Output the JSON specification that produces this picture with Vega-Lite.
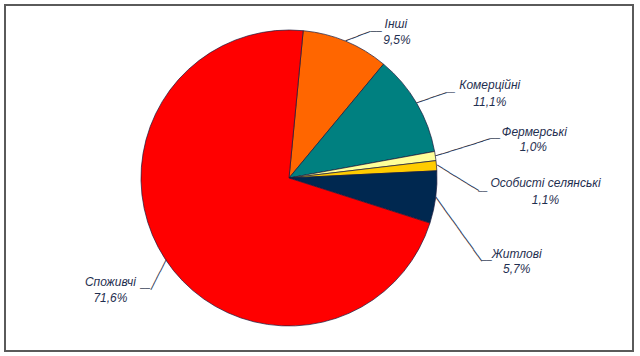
{
  "$schema": "https://vega.github.io/schema/vega-lite/v6.json",
  "autosize": "none",
  "width": 628,
  "height": 346,
  "padding": {"left": 5, "top": 5, "right": 7, "bottom": 5},
  "background": "white",
  "view": {"stroke": "#5a5a5a", "strokeWidth": 2},
  "config": {
    "locale": {"number": {"decimal": ",", "thousands": " ", "grouping": [3], "currency": ["", ""]}},
    "text": {"font": "Liberation Sans", "fontStyle": "italic", "fontSize": 12, "fill": "#1f2f50", "align": "center", "baseline": "middle"}
  },
  "data": {
    "values": [
      {"cat": "Інші", "share": 0.095, "rank": 1},
      {"cat": "Комерційні", "share": 0.111, "rank": 2},
      {"cat": "Фермерські", "share": 0.010, "rank": 3},
      {"cat": "Особисті селянські", "share": 0.011, "rank": 4},
      {"cat": "Житлові", "share": 0.057, "rank": 5},
      {"cat": "Споживчі", "share": 0.716, "rank": 6}
    ]
  },
  "encoding": {
    "theta": {"field": "share", "type": "quantitative", "stack": true, "scale": {"range": [0.096, 6.3792]}},
    "order": {"field": "rank", "type": "quantitative"}
  },
  "layer": [
    {
      "mark": {"type": "arc", "radius": 148, "stroke": "#1a1a3c", "strokeWidth": 0.7, "x": {"expr": "width/2 - 30"}},
      "encoding": {
        "color": {"field": "cat", "type": "nominal", "legend": null,
          "scale": {"domain": ["Інші", "Комерційні", "Фермерські", "Особисті селянські", "Житлові", "Споживчі"],
                    "range": ["#ff6600", "#008080", "#ffff99", "#ffcc00", "#002850", "#ff0000"]}}
      }
    },
    {"mark": {"type": "text", "radius": 148, "x": {"expr": "width/2 - 30"}, "font": "DejaVu Sans", "fontStyle": "normal", "align": "left", "fill": "#2b3550", "angle": -20.2, "fontSize": 11},
     "encoding": {"text": {"condition": {"test": "datum.cat === 'Інші'", "value": "────"}, "value": ""}}},
    {"mark": {"type": "text", "radius": 148, "x": {"expr": "width/2 - 30"}, "font": "DejaVu Sans", "fontStyle": "normal", "align": "left", "fill": "#2b3550", "dx": 24.8, "dy": -9.1, "fontSize": 9.1},
     "encoding": {"text": {"condition": {"test": "datum.cat === 'Інші'", "value": "──"}, "value": ""}}},
    {"mark": {"type": "text", "radius": 148, "x": {"expr": "width/2 - 30"}, "font": "DejaVu Sans", "fontStyle": "normal", "align": "left", "fill": "#2b3550", "angle": -18.5, "fontSize": 10.5},
     "encoding": {"text": {"condition": {"test": "datum.cat === 'Комерційні'", "value": "─────"}, "value": ""}}},
    {"mark": {"type": "text", "radius": 148, "x": {"expr": "width/2 - 30"}, "font": "DejaVu Sans", "fontStyle": "normal", "align": "left", "fill": "#2b3550", "dx": 29.9, "dy": -10, "fontSize": 6.9},
     "encoding": {"text": {"condition": {"test": "datum.cat === 'Комерційні'", "value": "──"}, "value": ""}}},
    {"mark": {"type": "text", "radius": 148, "x": {"expr": "width/2 - 30"}, "font": "DejaVu Sans", "fontStyle": "normal", "align": "left", "fill": "#2b3550", "angle": -17.4, "fontSize": 11.9},
     "encoding": {"text": {"condition": {"test": "datum.cat === 'Фермерські'", "value": "────────"}, "value": ""}}},
    {"mark": {"type": "text", "radius": 148, "x": {"expr": "width/2 - 30"}, "font": "DejaVu Sans", "fontStyle": "normal", "align": "left", "fill": "#2b3550", "dx": 54.6, "dy": -17.1, "fontSize": 8.3},
     "encoding": {"text": {"condition": {"test": "datum.cat === 'Фермерські'", "value": "──"}, "value": ""}}},
    {"mark": {"type": "text", "radius": 148, "x": {"expr": "width/2 - 30"}, "font": "DejaVu Sans", "fontStyle": "normal", "align": "left", "fill": "#2b3550", "angle": 31.7, "fontSize": 11.65},
     "encoding": {"text": {"condition": {"test": "datum.cat === 'Особисті селянські'", "value": "───────"}, "value": ""}}},
    {"mark": {"type": "text", "radius": 148, "x": {"expr": "width/2 - 30"}, "font": "DejaVu Sans", "fontStyle": "normal", "align": "left", "fill": "#2b3550", "dx": 41.8, "dy": 25.8, "fontSize": 7.5},
     "encoding": {"text": {"condition": {"test": "datum.cat === 'Особисті селянські'", "value": "──"}, "value": ""}}},
    {"mark": {"type": "text", "radius": 148, "x": {"expr": "width/2 - 30"}, "font": "DejaVu Sans", "fontStyle": "normal", "align": "left", "fill": "#2b3550", "angle": 54.3, "fontSize": 11.9},
     "encoding": {"text": {"condition": {"test": "datum.cat === 'Житлові'", "value": "───────────"}, "value": ""}}},
    {"mark": {"type": "text", "radius": 148, "x": {"expr": "width/2 - 30"}, "font": "DejaVu Sans", "fontStyle": "normal", "align": "left", "fill": "#2b3550", "dx": 46, "dy": 64.1, "fontSize": 8.3},
     "encoding": {"text": {"condition": {"test": "datum.cat === 'Житлові'", "value": "──"}, "value": ""}}},
    {"mark": {"type": "text", "radius": 148, "x": {"expr": "width/2 - 30"}, "font": "DejaVu Sans", "fontStyle": "normal", "align": "left", "fill": "#2b3550", "angle": 117, "fontSize": 11.2},
     "encoding": {"text": {"condition": {"test": "datum.cat === 'Споживчі'", "value": "─────"}, "value": ""}}},
    {"mark": {"type": "text", "radius": 148, "x": {"expr": "width/2 - 30"}, "font": "DejaVu Sans", "fontStyle": "normal", "align": "right", "fill": "#2b3550", "dx": -15.3, "dy": 30, "fontSize": 8.3},
     "encoding": {"text": {"condition": {"test": "datum.cat === 'Споживчі'", "value": "──"}, "value": ""}}},
    {"mark": {"type": "text", "radius": 148, "dx": 50, "dy": -17, "x": {"expr": "width/2 - 30"}},
     "encoding": {"text": {"condition": {"test": "datum.cat === 'Інші'", "field": "cat"}, "value": ""}}},
    {"mark": {"type": "text", "radius": 148, "dx": 51, "dy": -1, "x": {"expr": "width/2 - 30"}},
     "encoding": {"text": {"condition": {"test": "datum.cat === 'Інші'", "field": "share", "type": "quantitative", "format": ".1%"}, "value": ""}}},
    {"mark": {"type": "text", "radius": 148, "dx": 73, "dy": -18, "x": {"expr": "width/2 - 30"}},
     "encoding": {"text": {"condition": {"test": "datum.cat === 'Комерційні'", "field": "cat"}, "value": ""}}},
    {"mark": {"type": "text", "radius": 148, "dx": 73, "dy": -1, "x": {"expr": "width/2 - 30"}},
     "encoding": {"text": {"condition": {"test": "datum.cat === 'Комерційні'", "field": "share", "type": "quantitative", "format": ".1%"}, "value": ""}}},
    {"mark": {"type": "text", "radius": 148, "dx": 99, "dy": -24, "x": {"expr": "width/2 - 30"}},
     "encoding": {"text": {"condition": {"test": "datum.cat === 'Фермерські'", "field": "cat"}, "value": ""}}},
    {"mark": {"type": "text", "radius": 148, "dx": 98, "dy": -9, "x": {"expr": "width/2 - 30"}},
     "encoding": {"text": {"condition": {"test": "datum.cat === 'Фермерські'", "field": "share", "type": "quantitative", "format": ".1%"}, "value": ""}}},
    {"mark": {"type": "text", "radius": 148, "dx": 109, "dy": 17, "x": {"expr": "width/2 - 30"}},
     "encoding": {"text": {"condition": {"test": "datum.cat === 'Особисті селянські'", "field": "cat"}, "value": ""}}},
    {"mark": {"type": "text", "radius": 148, "dx": 109, "dy": 34, "x": {"expr": "width/2 - 30"}},
     "encoding": {"text": {"condition": {"test": "datum.cat === 'Особисті селянські'", "field": "share", "type": "quantitative", "format": ".1%"}, "value": ""}}},
    {"mark": {"type": "text", "radius": 148, "dx": 81, "dy": 57, "x": {"expr": "width/2 - 30"}},
     "encoding": {"text": {"condition": {"test": "datum.cat === 'Житлові'", "field": "cat"}, "value": ""}}},
    {"mark": {"type": "text", "radius": 148, "dx": 81, "dy": 72, "x": {"expr": "width/2 - 30"}},
     "encoding": {"text": {"condition": {"test": "datum.cat === 'Житлові'", "field": "share", "type": "quantitative", "format": ".1%"}, "value": ""}}},
    {"mark": {"type": "text", "radius": 148, "dx": -55, "dy": 23, "x": {"expr": "width/2 - 30"}},
     "encoding": {"text": {"condition": {"test": "datum.cat === 'Споживчі'", "field": "cat"}, "value": ""}}},
    {"mark": {"type": "text", "radius": 148, "dx": -55, "dy": 39, "x": {"expr": "width/2 - 30"}},
     "encoding": {"text": {"condition": {"test": "datum.cat === 'Споживчі'", "field": "share", "type": "quantitative", "format": ".1%"}, "value": ""}}}
  ]
}
